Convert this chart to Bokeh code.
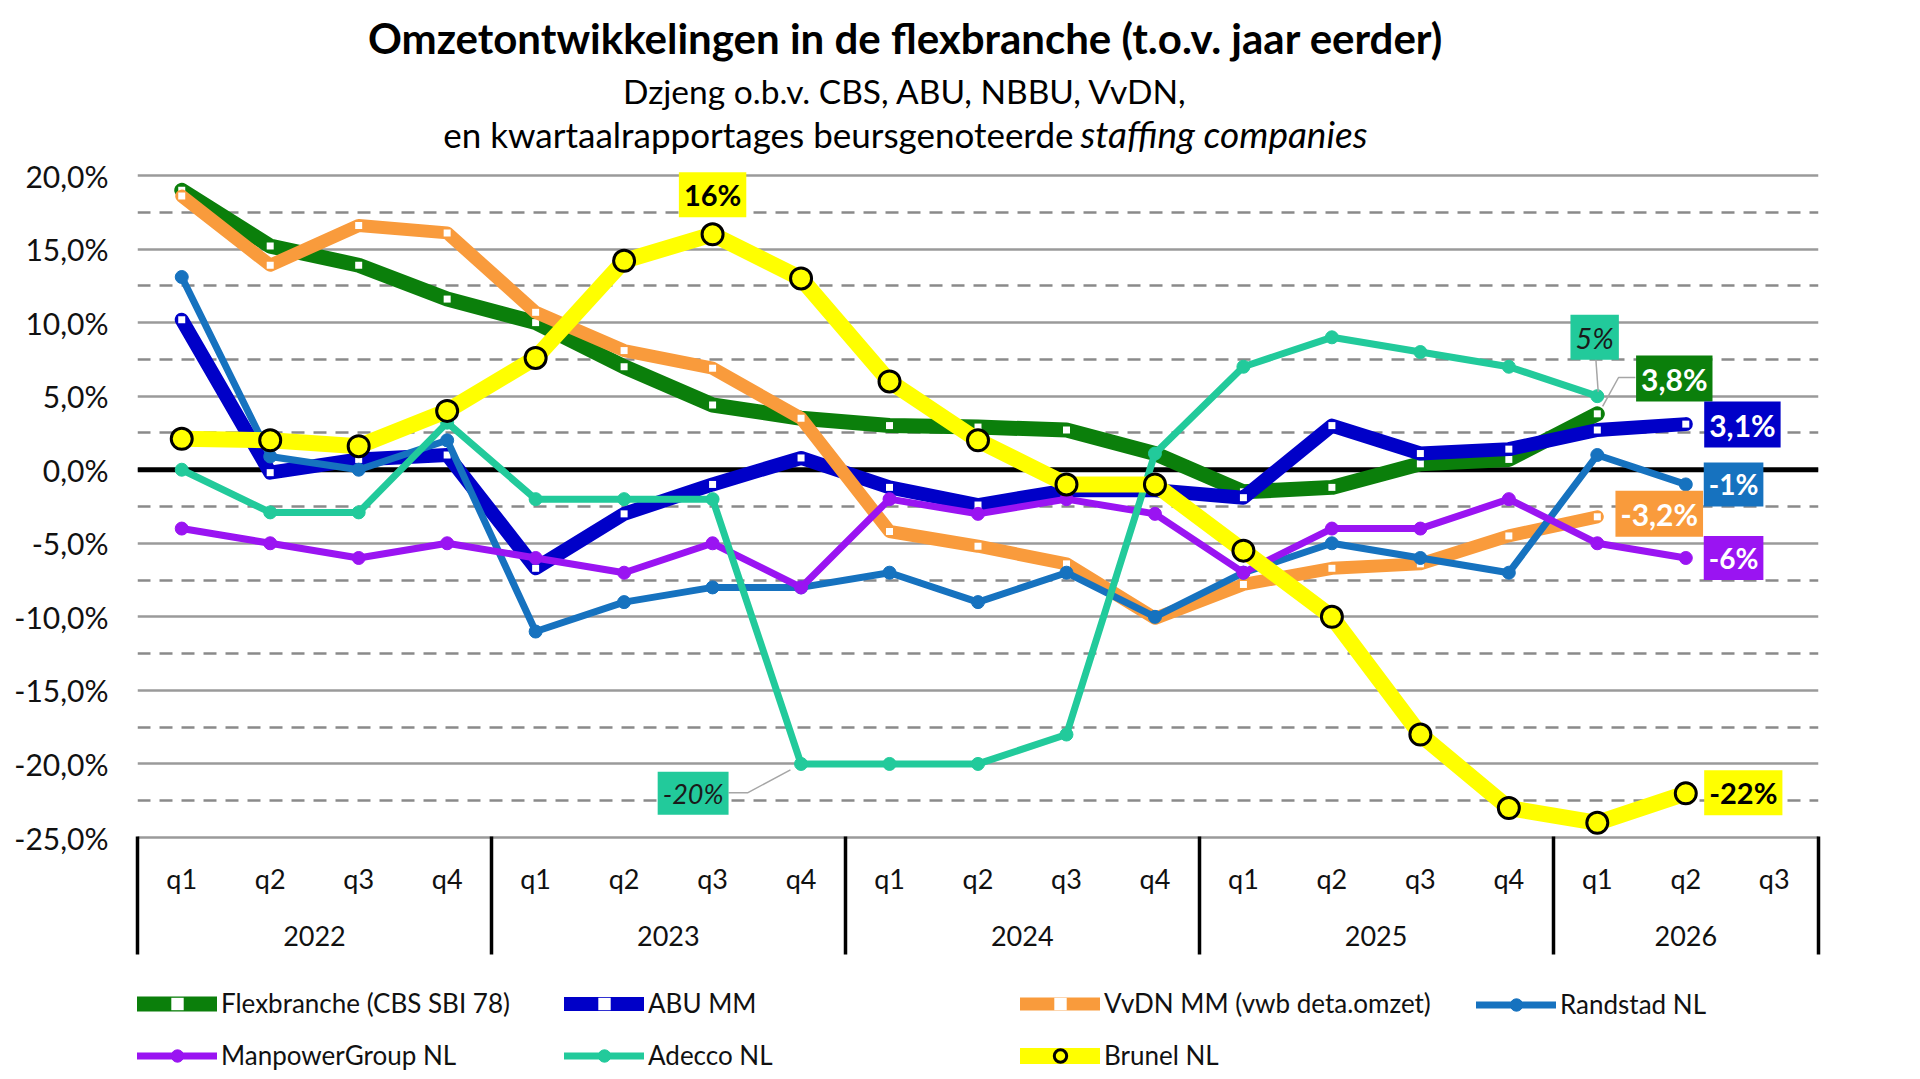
from bokeh.plotting import figure
from bokeh.layouts import column
from bokeh.models import (FactorRange, Range1d, LinearAxis, FixedTicker, CustomJSTickFormatter,
                          Span, Label, Legend, LegendItem, ColumnDataSource)
from bokeh.embed import file_html
from bokeh.resources import INLINE

# ---------------- data ----------------
years = ["2022", "2023", "2024", "2025", "2026"]
year_quarters = [["q1", "q2", "q3", "q4"], ["q1", "q2", "q3", "q4"], ["q1", "q2", "q3", "q4"],
                 ["q1", "q2", "q3", "q4"], ["q1", "q2", "q3"]]

flexbranche = [19.0, 15.2, 13.9, 11.6, 10.0, 7.0, 4.4, 3.5, 3.0, 2.9, 2.7, 1.1,
               -1.5, -1.2, 0.4, 0.7, 3.8, None, None]
abu_mm = [10.2, -0.2, 0.7, 1.0, -6.7, -3.0, -1.0, 0.8, -1.2, -2.4, -1.4, -1.4,
          -1.9, 3.0, 1.1, 1.4, 2.7, 3.1, None]
vvdn_mm = [18.6, 13.9, 16.6, 16.1, 10.7, 8.1, 6.9, 3.5, -4.2, -5.2, -6.4, -10.1,
           -7.8, -6.7, -6.4, -4.5, -3.2, None, None]
randstad = [13.1, 0.9, 0.0, 2.0, -11.0, -9.0, -8.0, -8.0, -7.0, -9.0, -7.0, -10.0,
            -7.0, -5.0, -6.0, -7.0, 1.0, -1.0, None]
manpower = [-4.0, -5.0, -6.0, -5.0, -6.0, -7.0, -5.0, -8.0, -2.0, -3.0, -2.0, -3.0,
            -7.0, -4.0, -4.0, -2.0, -5.0, -6.0, None]
adecco = [0.0, -2.9, -2.9, 3.2, -2.0, -2.0, -2.0, -20.0, -20.0, -20.0, -18.0, 1.1,
          7.0, 9.0, 8.0, 7.0, 5.0, None, None]
brunel = [2.1, 2.0, 1.6, 4.0, 7.6, 14.2, 16.0, 13.0, 6.0, 2.0, -1.0, -1.0,
          -5.5, -10.0, -18.0, -23.0, -24.0, -22.0, None]

y_major = [-25, -20, -15, -10, -5, 0, 5, 10, 15, 20]
y_minor = [-22.5, -17.5, -12.5, -7.5, -2.5, 2.5, 7.5, 12.5, 17.5]

title_text = "Omzetontwikkelingen in de flexbranche (t.o.v. jaar eerder)"
subtitle1 = "Dzjeng o.b.v. CBS, ABU, NBBU, VvDN,"
subtitle2_plain = "en kwartaalrapportages beursgenoteerde"
subtitle2_italic = "staffing companies"

# ---------------- styles ----------------
GREEN = "#0B7F0B"
DBLUE = "#0000C8"
ORANGE = "#F99B3C"
BLUE = "#1672BF"
PURPLE = "#9A14F2"
TEAL = "#22CA9B"
YELLOW = "#FFFF00"
FONT = "Lato"

series = [
    # name, values, color, width, marker
    ("Flexbranche (CBS SBI 78)", flexbranche, GREEN, 15, "square"),
    ("ABU MM", abu_mm, DBLUE, 14, "square"),
    ("VvDN MM (vwb deta.omzet)", vvdn_mm, ORANGE, 13, "square"),
    ("Randstad NL", randstad, BLUE, 7, "dot"),
    ("ManpowerGroup NL", manpower, PURPLE, 7, "dot"),
    ("Adecco NL", adecco, TEAL, 7, "dot"),
    ("Brunel NL", brunel, YELLOW, 16, "ring"),
]

factors = [(y, q) for y, qs in zip(years, year_quarters) for q in qs]
n_q = len(factors)

# layout constants (pixels)
PAGE_W = 1904
FRAME_W = 1681
BORDER_L = 137
PX_PER_PCT = 14.711
FRAME_TOP_PAD = 11
TOP_EXTRA_PX = 164          # room above the 20% line for the titles
FRAME_H = int(round((45 + TOP_EXTRA_PX / PX_PER_PCT) * PX_PER_PCT))
y_top = -25 + FRAME_H / PX_PER_PCT
Q_STANDOFF = 24
Y_STANDOFF = 28
AXIS_BLOCK = 112            # height of the quarter + year label block
LEGEND_H = 116

p = figure(x_range=FactorRange(factors=factors, factor_padding=0, group_padding=0,
                               subgroup_padding=0, range_padding=0),
           y_range=Range1d(-25, y_top),
           frame_width=FRAME_W, frame_height=FRAME_H,
           min_border_left=BORDER_L, min_border_right=PAGE_W - BORDER_L - FRAME_W,
           min_border_top=FRAME_TOP_PAD, min_border_bottom=118,
           title=None, x_axis_location=None,
           output_backend="svg", toolbar_location=None)
p.outline_line_color = None
p.background_fill_color = "white"
p.border_fill_color = "white"
p.xgrid.visible = False

# y axis + grid
p.yaxis.ticker = FixedTicker(ticks=y_major, minor_ticks=y_minor)
p.yaxis.formatter = CustomJSTickFormatter(code="return tick.toFixed(1).replace('.', ',') + '%';")
p.yaxis.axis_line_color = None
p.yaxis.major_tick_line_color = None
p.yaxis.minor_tick_line_color = None
p.yaxis.major_label_standoff = 23
p.yaxis.major_label_text_font = FONT
p.yaxis.major_label_text_font_size = "30px"
p.yaxis.major_label_text_color = "#111111"
p.ygrid.grid_line_color = "#9a9a9a"
p.ygrid.grid_line_width = 2.5
p.ygrid.minor_grid_line_color = "#8a8a8a"
p.ygrid.minor_grid_line_width = 2.5
p.ygrid.minor_grid_line_dash = "13 9"

zero = Span(location=0, dimension="width", line_color="black", line_width=5, level="underlay")
p.add_layout(zero)

# x axes, placed on the synthetic coordinate of the factor range
centers = [i + 0.5 for i in range(n_q)]
bounds = [0]
year_centers = []
pos = 0
for qs in year_quarters:
    year_centers.append(pos + len(qs) / 2)
    pos += len(qs)
    bounds.append(pos)

def plain_axis(ax):
    ax.axis_line_color = None
    ax.major_tick_line_color = None
    ax.minor_tick_line_color = None
    ax.major_tick_in = 0
    ax.major_tick_out = 0
    ax.minor_tick_in = 0
    ax.minor_tick_out = 0
    ax.major_label_text_font = FONT
    ax.major_label_text_font_size = "27px"
    ax.major_label_text_color = "#111111"

ax_q = LinearAxis(ticker=FixedTicker(ticks=centers, minor_ticks=[]),
                  major_label_overrides={c: f[1] for c, f in zip(centers, factors)})
plain_axis(ax_q)
ax_q.axis_line_color = "#9a9a9a"
ax_q.axis_line_width = 2.5
ax_q.major_label_standoff = Q_STANDOFF
p.add_layout(ax_q, "below")

ax_y = LinearAxis(ticker=FixedTicker(ticks=year_centers, minor_ticks=[]),
                  major_label_overrides={c: y for c, y in zip(year_centers, years)})
plain_axis(ax_y)
ax_y.major_label_standoff = Y_STANDOFF
p.add_layout(ax_y, "below")

# year separators (and outer edges) drawn as ticks reaching up to the plot area
ax_sep = LinearAxis(ticker=FixedTicker(ticks=[], minor_ticks=bounds))
plain_axis(ax_sep)
ax_sep.minor_tick_line_color = "black"
ax_sep.minor_tick_line_width = 3.5
ax_sep.minor_tick_in = AXIS_BLOCK
ax_sep.minor_tick_out = 6
p.add_layout(ax_sep, "below")

# legend strip under the chart (its plot area lines up with the chart's)
lf = figure(height=LEGEND_H, frame_width=FRAME_W,
            x_range=Range1d(0, 1), y_range=Range1d(0, 1),
            x_axis_location=None, y_axis_location=None,
            min_border_left=BORDER_L, min_border_right=PAGE_W - BORDER_L - FRAME_W,
            min_border_top=0, min_border_bottom=0, title=None,
            output_backend="svg", toolbar_location=None)
lf.grid.visible = False
lf.outline_line_color = None
lf.background_fill_color = "white"
lf.border_fill_color = "white"


def draw_series(fig, xs, ys, color, width, marker):
    src = ColumnDataSource(dict(x=xs, y=ys))
    rl = fig.line("x", "y", source=src, line_color=color, line_width=width,
                  line_join="round", line_cap="round")
    if marker == "square":
        rm = fig.scatter("x", "y", source=src, marker="square", size=7,
                         fill_color="white", line_color=None)
    elif marker == "dot":
        rm = fig.scatter("x", "y", source=src, marker="circle", size=13,
                         fill_color=color, line_color=color)
    else:
        rm = fig.scatter("x", "y", source=src, marker="circle", size=21,
                         fill_color=color, line_color="black", line_width=3)
    return [rl, rm]


NAN = float("nan")
legend_items = []
for name, vals, color, width, marker in series:
    xs = [f for f, v in zip(factors, vals) if v is not None]
    ys = [v for v in vals if v is not None]
    draw_series(p, xs, ys, color, width, marker)
    sample = draw_series(lf, [NAN], [NAN], color, width, marker)   # legend swatch only
    legend_items.append(LegendItem(label=name, renderers=sample))

# legend columns: (x from the plot-area left, series indices)
legend_columns = [(0, [0, 4]), (427, [1, 5]), (883, [2, 6]), (1339, [3])]
ROW_H = 31
ROW_GAP = 20
LEGEND_TOP = 34
for x0, idx in legend_columns:
    n = len(idx)
    h = n * ROW_H + (n - 1) * ROW_GAP
    lg = Legend(items=[legend_items[i] for i in idx], orientation="vertical",
                location=(x0, LEGEND_H - LEGEND_TOP - h),
                glyph_width=80, glyph_height=ROW_H, label_height=ROW_H,
                label_standoff=4, spacing=ROW_GAP, padding=0, margin=0,
                border_line_color=None, background_fill_alpha=0,
                label_text_font=FONT, label_text_font_size="26px",
                label_text_color="#111111")
    lf.add_layout(lg, "center")

# callouts: text, x (synthetic), y (%), background, text colour, style, size
callouts = [
    ("16%", 6.5, 18.7, YELLOW, "black", "bold", "29px"),
    ("5%", 16.47, 9.0, TEAL, "#1a1a1a", "italic", "29px"),
    ("3,8%", 17.37, 6.2, GREEN, "white", "bold", "30px"),
    ("3,1%", 18.14, 3.07, DBLUE, "white", "bold", "30px"),
    ("-1%", 18.04, -1.0, BLUE, "white", "bold", "28px"),
    ("-3,2%", 17.2, -3.0, ORANGE, "white", "bold", "30px"),
    ("-6%", 18.04, -6.0, PURPLE, "white", "bold", "28px"),
    ("-22%", 18.15, -21.95, YELLOW, "black", "bold", "29px"),
    ("-20%", 6.28, -22.0, TEAL, "#1a1a1a", "italic", "27px"),
]
# leader lines (label edge -> data point)
leaders = [
    ([16.48, 16.51], [7.8, 5.3]),
    ([16.93, 16.74, 16.56], [6.27, 6.27, 4.3]),
    ([6.68, 6.90, 7.38], [-21.95, -21.95, -20.4]),
]
for lx, ly in leaders:
    p.line(lx, ly, line_color="#a6a6a6", line_width=1.5)

for text, x, y, bg, tc, style, size in callouts:
    p.add_layout(Label(x=x, y=y, text=text, text_align="center", text_baseline="middle",
                       text_font=FONT, text_font_size=size, text_font_style=style,
                       text_color=tc, background_fill_color=bg, padding=5))

# titles (inside the top area of the frame)
TITLE_X = 768
p.add_layout(Label(x=TITLE_X, y=800, x_units="screen", y_units="screen", text=title_text,
                   text_align="center", text_baseline="middle", text_font=FONT,
                   text_font_size="42px", text_font_style="bold", text_color="black"))
p.add_layout(Label(x=TITLE_X, y=747, x_units="screen", y_units="screen", text=subtitle1,
                   text_align="center", text_baseline="middle", text_font=FONT,
                   text_font_size="33.5px", text_color="black"))
p.add_layout(Label(x=936, y=704, x_units="screen", y_units="screen", text=subtitle2_plain,
                   text_align="right", text_baseline="middle", text_font=FONT,
                   text_font_size="35px", text_color="black"))
p.add_layout(Label(x=943, y=704, x_units="screen", y_units="screen", text=subtitle2_italic,
                   text_align="left", text_baseline="middle", text_font=FONT,
                   text_font_size="37px", text_font_style="italic", text_color="black"))

layout = column(p, lf, spacing=0)
open("out.html", "w").write(file_html(layout, INLINE))
